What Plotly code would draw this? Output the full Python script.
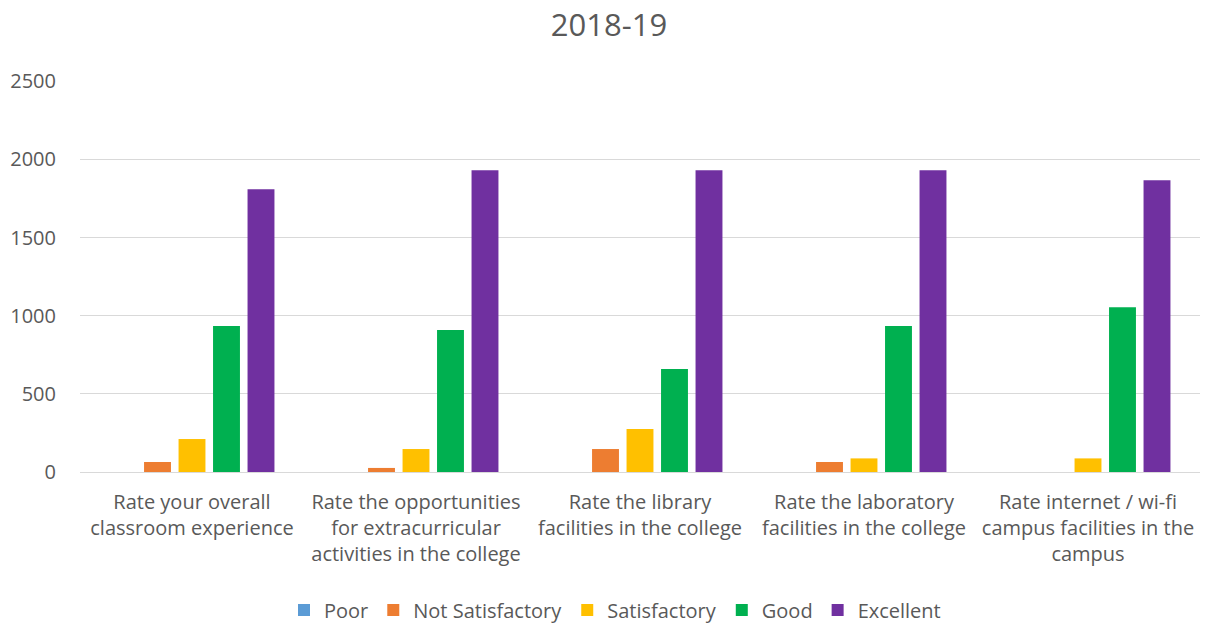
import plotly.graph_objects as go

categories = [
    "Rate your overall<br>classroom experience",
    "Rate the opportunities<br>for extracurricular<br>activities in the college",
    "Rate the library<br>facilities in the college",
    "Rate the laboratory<br>facilities in the college",
    "Rate internet / wi-fi<br>campus facilities in the<br>campus",
]
poor = [0, 0, 0, 0, 0]
not_satisfactory = [64, 26, 147, 64, 0]
satisfactory = [211, 147, 275, 87, 87]
good = [934, 908, 659, 934, 1055]
excellent = [1810, 1931, 1931, 1931, 1867]

series = [
    ("Poor", poor, "#5B9BD5"),
    ("Not Satisfactory", not_satisfactory, "#ED7D31"),
    ("Satisfactory", satisfactory, "#FFC000"),
    ("Good", good, "#00B050"),
    ("Excellent", excellent, "#7030A0"),
]

fig = go.Figure()
for name, vals, col in series:
    fig.add_trace(go.Bar(x=categories, y=vals, name=name, marker_color=col,
                         marker_line_width=0))

W, H = 1206, 624
fig.update_layout(
    width=W, height=H,
    paper_bgcolor="white", plot_bgcolor="white",
    font=dict(family="Open Sans, Liberation Sans, sans-serif", color="#595959", size=19),
    title=dict(text="2018-19", x=609 / W, xanchor="center", xref="container",
               y=1 - 25 / H, yanchor="middle", yref="container",
               font=dict(size=31, color="#595959")),
    barmode="group", bargap=0.23, bargroupgap=0.22,
    margin=dict(l=80, r=6, t=81, b=152),
    legend=dict(orientation="h", x=615 / W, xanchor="center", xref="container",
                y=1 - 610 / H, yanchor="middle", yref="container",
                font=dict(size=20, color="#595959"), traceorder="normal",
                itemwidth=30),
    showlegend=True,
)
fig.update_yaxes(range=[0, 2502], tickvals=[0, 500, 1000, 1500, 2000, 2500],
                 showgrid=True, gridcolor="#D9D9D9",
                 gridwidth=1, zeroline=False, showline=False, automargin=False,
                 tickfont=dict(size=20, color="#595959"), ticklabelstandoff=23)
fig.update_xaxes(showline=True, linecolor="#D9D9D9", linewidth=1, ticks="",
                 automargin=False, ticklabelstandoff=12,
                 tickfont=dict(size=20, color="#595959"))

fig.write_html("out.html", config={"displayModeBar": False},
               post_script="document.body.style.margin='0';document.body.style.padding='0';")
